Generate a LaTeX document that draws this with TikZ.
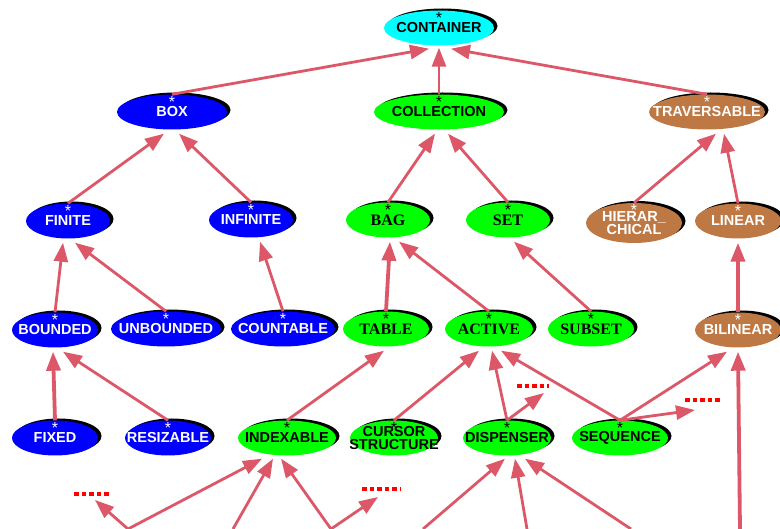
\documentclass[tikz,border=0pt]{standalone}
\usepackage{fontspec}
\setmainfont{Liberation Serif}
\setsansfont{Liberation Sans}
\usetikzlibrary{arrows.meta, shapes.geometric, shadows}
\definecolor{SkyCyan}{RGB}{0,255,255}
\definecolor{DeepBlue}{RGB}{0,0,255}
\definecolor{LeafGreen}{RGB}{0,255,0}
\definecolor{Clay}{RGB}{190,120,68}
\definecolor{LinkRed}{RGB}{220,88,104}
\definecolor{DotRed}{RGB}{255,0,0}

\begin{document}
\begin{tikzpicture}[
    x=1pt, y=-1pt,
    kind/.style={
        ellipse,
        inner xsep=-80pt,
        inner ysep=-40pt,
        minimum height=35pt,
        align=center,
        font=\sffamily\bfseries\fontsize{14.5}{13}\selectfont,
        drop shadow={shadow xshift=3.5pt, shadow yshift=2pt, fill=black, opacity=1}
    },
    star/.style={
        anchor=north,
        inner sep=0pt,
        yshift=-1.5pt,
        font=\sffamily\fontsize{16}{16}\selectfont
    },
    rootkind/.style={kind, fill=SkyCyan, text=black, label={[star, text=black]north:*}},
    boxkind/.style={kind, fill=DeepBlue, text=white, label={[star, text=white]north:*}},
    collkind/.style={kind, fill=LeafGreen, text=black, label={[star, text=black]north:*}},
    travkind/.style={kind, fill=Clay, text=white, label={[star, text=white]north:*}},
    serif/.style={font=\rmfamily\bfseries\fontsize{16}{16}\selectfont},
    link/.style={
        draw=LinkRed,
        line width=2.8pt,
        -{Triangle[length=19pt, width=14pt]}
    },
    heavy/.style={link, line width=3.8pt},
    more/.style={draw=DotRed, line width=3.5pt, dash pattern=on 4.5pt off 3pt}
]
\useasboundingbox (0,0) rectangle (780,529);

% top
\node[rootkind, minimum width=110] (container) at (439,28) {CONTAINER};

\node[boxkind, minimum width=110] (box) at (172,112) {BOX};
\node[collkind, minimum width=130] (collection) at (439,112) {COLLECTION};
\node[travkind, minimum width=116] (traversable) at (707,112) {TRAVERSABLE};

\node[boxkind, minimum width=84] (finite) at (68,221) {FINITE};
\node[boxkind, minimum width=84] (infinite) at (251,220) {INFINITE};
\node[collkind, serif, minimum width=84] (bag) at (388,220) {BAG};
\node[collkind, serif, minimum width=84] (set) at (508,220) {SET};
\node[travkind, minimum width=96, minimum height=40] (hierarchical) at (634,223) {HIERAR\_\\CHICAL};
\node[travkind, minimum width=86] (linear) at (738,221) {LINEAR};

\node[boxkind, minimum width=86] (bounded) at (55,330) {BOUNDED};
\node[boxkind, minimum width=110] (unbounded) at (166,329) {UNBOUNDED};
\node[boxkind, minimum width=104] (countable) at (283,329) {COUNTABLE};
\node[collkind, serif, minimum width=86] (table) at (386,329) {TABLE};
\node[collkind, serif, minimum width=88] (active) at (489,329) {ACTIVE};
\node[collkind, serif, minimum width=86] (subset) at (591,329) {SUBSET};
\node[travkind, minimum width=86] (bilinear) at (738,330) {BILINEAR};

\node[boxkind, minimum width=86] (fixed) at (55,438) {FIXED};
\node[boxkind, minimum width=86] (resizable) at (168,438) {RESIZABLE};
\node[collkind, minimum width=98] (indexable) at (287,438) {INDEXABLE};
\node[collkind, minimum width=88] (cursor) at (394,438) {CURSOR\\STRUCTURE};
\node[collkind, minimum width=88] (dispenser) at (507,438) {DISPENSER};
\node[collkind, minimum width=96] (sequence) at (620,438) {SEQUENCE};

% off-page ends
\coordinate (inA) at (128,529);
\coordinate (inB) at (233,529);
\coordinate (inC) at (331,529);
\coordinate (inD) at (423,529);
\coordinate (inE) at (527,529);
\coordinate (inF) at (631,529);
\coordinate (inG) at (740,529);
\coordinate (stubA) at (95,500);
\coordinate (stubB) at (378,497);
\coordinate (stubC) at (544,393);
\coordinate (stubD) at (695,410);

\draw[link] (box.north) -- ([xshift=-10pt,yshift=-3pt]container.south);
\draw[link] (collection.north) -- ([yshift=-2pt]container.south);
\draw[link] (traversable.north) -- ([xshift=12pt,yshift=-3pt]container.south);

\draw[link] (finite.north) -- ([xshift=-8pt,yshift=-4pt]box.south);
\draw[link] (infinite.north) -- ([xshift=7pt,yshift=-4pt]box.south);
\draw[link] (bag.north) -- ([xshift=-4pt,yshift=-4pt]collection.south);
\draw[link] (set.north) -- ([xshift=9pt,yshift=-4pt]collection.south);
\draw[link] (hierarchical.north) -- ([xshift=9pt,yshift=-4pt]traversable.south);
\draw[link] (linear.north) -- ([xshift=17pt,yshift=-4pt]traversable.south);

\draw[link] (bounded.north) -- ([xshift=-5pt,yshift=-4pt]finite.south);
\draw[link] (unbounded.north) -- ([xshift=7pt,yshift=-4pt]finite.south);
\draw[link] (countable.north) -- ([xshift=9pt,yshift=-4pt]infinite.south);
\draw[heavy] (table.north) -- ([xshift=2pt,yshift=-4pt]bag.south);
\draw[link] (active.north) -- ([xshift=11pt,yshift=-4pt]bag.south);
\draw[link] (subset.north) -- ([xshift=6pt,yshift=-4pt]set.south);
\draw[heavy] (bilinear.north) -- ([yshift=-4pt]linear.south);

\draw[heavy] (fixed.north) -- ([xshift=-2pt,yshift=-4pt]bounded.south);
\draw[link] (resizable.north) -- ([xshift=8pt,yshift=-4pt]bounded.south);
\draw[link] (indexable.north) -- ([xshift=-2pt,yshift=-4pt]table.south);
\draw[link] (cursor.north) -- ([xshift=-10pt,yshift=-4pt]active.south);
\draw[link] (dispenser.north) -- ([xshift=3pt,yshift=-4pt]active.south);
\draw[link] (sequence.north) -- ([xshift=12pt,yshift=-4pt]active.south);
\draw[link] (sequence.north) -- ([xshift=-11pt,yshift=-4pt]bilinear.south);
\draw[link] (dispenser.north) -- (stubC);
\draw[link] (sequence.north) -- (stubD);

% from below the page
\draw[link] (inA) -- ([xshift=-25pt,yshift=-3pt]indexable.south);
\draw[link] (inB) -- ([xshift=-14pt,yshift=-3pt]indexable.south);
\draw[link] (inC) -- ([xshift=-6pt,yshift=-3pt]indexable.south);
\draw[link] (inA) -- (stubA);
\draw[link] (inC) -- (stubB);
\draw[link] (inD) -- ([xshift=-2pt,yshift=-3pt]dispenser.south);
\draw[link] (inE) -- ([xshift=8pt,yshift=-3pt]dispenser.south);
\draw[link] (inF) -- ([xshift=18pt,yshift=-3pt]dispenser.south);
\draw[heavy] (inG) -- ([yshift=-4pt]bilinear.south);

% elided branches
\draw[more] (stubA) ++(-21,-6) -- ++(36,0);
\draw[more] (stubB) ++(-16,-8) -- ++(38,0);
\draw[more] (stubC) ++(-27,-7) -- ++(32,0);
\draw[more] (stubD) ++(-10,-10) -- ++(36,0);

\end{tikzpicture}
\end{document}
